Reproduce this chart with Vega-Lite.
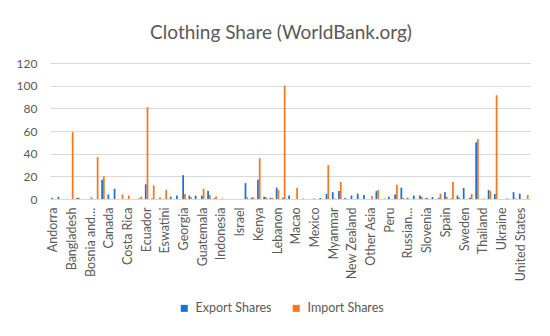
{
  "$schema": "https://vega.github.io/schema/vega-lite/v6.json",
  "autosize": {"type": "none"},
  "width": 480,
  "height": 136,
  "padding": {"left": 50, "top": 63, "right": 20, "bottom": 137},
  "background": "white",
  "title": {
    "text": "Clothing Share (WorldBank.org)",
    "font": "Lato",
    "fontSize": 19,
    "fontWeight": "normal",
    "color": "#595959",
    "anchor": "middle",
    "frame": "group",
    "dx": -9,
    "offset": 14
  },
  "config": {
    "view": {"stroke": null},
    "font": "Lato"
  },
  "data": {
    "values": [
      {"country": "Andorra", "type": "Export Shares", "value": 1}, {"country": "Andorra", "type": "Import Shares", "value": 0},
      {"country": "Argentina", "type": "Export Shares", "value": 2}, {"country": "Argentina", "type": "Import Shares", "value": 0},
      {"country": "Australia", "type": "Export Shares", "value": 0}, {"country": "Australia", "type": "Import Shares", "value": 0},
      {"country": "Bangladesh", "type": "Export Shares", "value": 0}, {"country": "Bangladesh", "type": "Import Shares", "value": 59},
      {"country": "Belarus", "type": "Export Shares", "value": 1}, {"country": "Belarus", "type": "Import Shares", "value": 1},
      {"country": "Belgium", "type": "Export Shares", "value": 0}, {"country": "Belgium", "type": "Import Shares", "value": 0},
      {"country": "Bosnia and Herzegovina", "type": "Export Shares", "value": 0}, {"country": "Bosnia and Herzegovina", "type": "Import Shares", "value": 1.5},
      {"country": "Botswana", "type": "Export Shares", "value": 0}, {"country": "Botswana", "type": "Import Shares", "value": 37},
      {"country": "Brazil", "type": "Export Shares", "value": 17}, {"country": "Brazil", "type": "Import Shares", "value": 20},
      {"country": "Canada", "type": "Export Shares", "value": 4}, {"country": "Canada", "type": "Import Shares", "value": 0},
      {"country": "Chile", "type": "Export Shares", "value": 9}, {"country": "Chile", "type": "Import Shares", "value": 0},
      {"country": "China", "type": "Export Shares", "value": 0}, {"country": "China", "type": "Import Shares", "value": 4},
      {"country": "Costa Rica", "type": "Export Shares", "value": 0}, {"country": "Costa Rica", "type": "Import Shares", "value": 3},
      {"country": "Croatia", "type": "Export Shares", "value": 0}, {"country": "Croatia", "type": "Import Shares", "value": 0},
      {"country": "Czech Republic", "type": "Export Shares", "value": 0.5}, {"country": "Czech Republic", "type": "Import Shares", "value": 2},
      {"country": "Ecuador", "type": "Export Shares", "value": 13}, {"country": "Ecuador", "type": "Import Shares", "value": 81},
      {"country": "Egypt", "type": "Export Shares", "value": 0.5}, {"country": "Egypt", "type": "Import Shares", "value": 12},
      {"country": "El Salvador", "type": "Export Shares", "value": 0}, {"country": "El Salvador", "type": "Import Shares", "value": 1.5},
      {"country": "Eswatini", "type": "Export Shares", "value": 0}, {"country": "Eswatini", "type": "Import Shares", "value": 8},
      {"country": "Fiji", "type": "Export Shares", "value": 2}, {"country": "Fiji", "type": "Import Shares", "value": 0},
      {"country": "France", "type": "Export Shares", "value": 3}, {"country": "France", "type": "Import Shares", "value": 0},
      {"country": "Georgia", "type": "Export Shares", "value": 21}, {"country": "Georgia", "type": "Import Shares", "value": 4.5},
      {"country": "Germany", "type": "Export Shares", "value": 3}, {"country": "Germany", "type": "Import Shares", "value": 1.5},
      {"country": "Greece", "type": "Export Shares", "value": 3}, {"country": "Greece", "type": "Import Shares", "value": 0},
      {"country": "Guatemala", "type": "Export Shares", "value": 3}, {"country": "Guatemala", "type": "Import Shares", "value": 9},
      {"country": "Honduras", "type": "Export Shares", "value": 7}, {"country": "Honduras", "type": "Import Shares", "value": 3.5},
      {"country": "India", "type": "Export Shares", "value": 0.5}, {"country": "India", "type": "Import Shares", "value": 2.5},
      {"country": "Indonesia", "type": "Export Shares", "value": 0}, {"country": "Indonesia", "type": "Import Shares", "value": 0.5},
      {"country": "Iran", "type": "Export Shares", "value": 0}, {"country": "Iran", "type": "Import Shares", "value": 0},
      {"country": "Ireland", "type": "Export Shares", "value": 0}, {"country": "Ireland", "type": "Import Shares", "value": 0},
      {"country": "Israel", "type": "Export Shares", "value": 0}, {"country": "Israel", "type": "Import Shares", "value": 0},
      {"country": "Italy", "type": "Export Shares", "value": 14}, {"country": "Italy", "type": "Import Shares", "value": 1.5},
      {"country": "Japan", "type": "Export Shares", "value": 1.3}, {"country": "Japan", "type": "Import Shares", "value": 1.3},
      {"country": "Kenya", "type": "Export Shares", "value": 17}, {"country": "Kenya", "type": "Import Shares", "value": 36},
      {"country": "Korea, Rep.", "type": "Export Shares", "value": 2}, {"country": "Korea, Rep.", "type": "Import Shares", "value": 1.5},
      {"country": "Kyrgyz Republic", "type": "Export Shares", "value": 1}, {"country": "Kyrgyz Republic", "type": "Import Shares", "value": 1},
      {"country": "Lebanon", "type": "Export Shares", "value": 10}, {"country": "Lebanon", "type": "Import Shares", "value": 8},
      {"country": "Lesotho", "type": "Export Shares", "value": 1}, {"country": "Lesotho", "type": "Import Shares", "value": 100},
      {"country": "Lithuania", "type": "Export Shares", "value": 3}, {"country": "Lithuania", "type": "Import Shares", "value": 0},
      {"country": "Macao", "type": "Export Shares", "value": 0}, {"country": "Macao", "type": "Import Shares", "value": 10},
      {"country": "Madagascar", "type": "Export Shares", "value": 0}, {"country": "Madagascar", "type": "Import Shares", "value": 0.5},
      {"country": "Malaysia", "type": "Export Shares", "value": 0}, {"country": "Malaysia", "type": "Import Shares", "value": 0},
      {"country": "Mexico", "type": "Export Shares", "value": 0.5}, {"country": "Mexico", "type": "Import Shares", "value": 0},
      {"country": "Moldova", "type": "Export Shares", "value": 1}, {"country": "Moldova", "type": "Import Shares", "value": 0},
      {"country": "Morocco", "type": "Export Shares", "value": 4.4}, {"country": "Morocco", "type": "Import Shares", "value": 30},
      {"country": "Myanmar", "type": "Export Shares", "value": 6}, {"country": "Myanmar", "type": "Import Shares", "value": 0.5},
      {"country": "Namibia", "type": "Export Shares", "value": 7}, {"country": "Namibia", "type": "Import Shares", "value": 15},
      {"country": "Netherlands", "type": "Export Shares", "value": 1}, {"country": "Netherlands", "type": "Import Shares", "value": 0},
      {"country": "New Zealand", "type": "Export Shares", "value": 3}, {"country": "New Zealand", "type": "Import Shares", "value": 0},
      {"country": "Nicaragua", "type": "Export Shares", "value": 4.7}, {"country": "Nicaragua", "type": "Import Shares", "value": 0},
      {"country": "Norway", "type": "Export Shares", "value": 3.5}, {"country": "Norway", "type": "Import Shares", "value": 0},
      {"country": "Other Asia", "type": "Export Shares", "value": 0}, {"country": "Other Asia", "type": "Import Shares", "value": 2.6},
      {"country": "Pakistan", "type": "Export Shares", "value": 7}, {"country": "Pakistan", "type": "Import Shares", "value": 8},
      {"country": "Paraguay", "type": "Export Shares", "value": 0}, {"country": "Paraguay", "type": "Import Shares", "value": 0.5},
      {"country": "Peru", "type": "Export Shares", "value": 2}, {"country": "Peru", "type": "Import Shares", "value": 0},
      {"country": "Philippines", "type": "Export Shares", "value": 4}, {"country": "Philippines", "type": "Import Shares", "value": 12.6},
      {"country": "Poland", "type": "Export Shares", "value": 10}, {"country": "Poland", "type": "Import Shares", "value": 1},
      {"country": "Russian Federation", "type": "Export Shares", "value": 1}, {"country": "Russian Federation", "type": "Import Shares", "value": 0},
      {"country": "Saudi Arabia", "type": "Export Shares", "value": 3}, {"country": "Saudi Arabia", "type": "Import Shares", "value": 0},
      {"country": "Singapore", "type": "Export Shares", "value": 3}, {"country": "Singapore", "type": "Import Shares", "value": 2},
      {"country": "Slovenia", "type": "Export Shares", "value": 1}, {"country": "Slovenia", "type": "Import Shares", "value": 0.5},
      {"country": "Solomon Islands", "type": "Export Shares", "value": 1.7}, {"country": "Solomon Islands", "type": "Import Shares", "value": 0},
      {"country": "South Africa", "type": "Export Shares", "value": 1}, {"country": "South Africa", "type": "Import Shares", "value": 4.7},
      {"country": "Spain", "type": "Export Shares", "value": 6}, {"country": "Spain", "type": "Import Shares", "value": 2},
      {"country": "Sri Lanka", "type": "Export Shares", "value": 0.5}, {"country": "Sri Lanka", "type": "Import Shares", "value": 15},
      {"country": "Suriname", "type": "Export Shares", "value": 3}, {"country": "Suriname", "type": "Import Shares", "value": 1.5},
      {"country": "Sweden", "type": "Export Shares", "value": 9.7}, {"country": "Sweden", "type": "Import Shares", "value": 0},
      {"country": "Switzerland", "type": "Export Shares", "value": 1}, {"country": "Switzerland", "type": "Import Shares", "value": 4.4},
      {"country": "Tanzania", "type": "Export Shares", "value": 50}, {"country": "Tanzania", "type": "Import Shares", "value": 53},
      {"country": "Thailand", "type": "Export Shares", "value": 0}, {"country": "Thailand", "type": "Import Shares", "value": 0.5},
      {"country": "Tunisia", "type": "Export Shares", "value": 8}, {"country": "Tunisia", "type": "Import Shares", "value": 7},
      {"country": "Turkey", "type": "Export Shares", "value": 4.4}, {"country": "Turkey", "type": "Import Shares", "value": 91.5},
      {"country": "Ukraine", "type": "Export Shares", "value": 0}, {"country": "Ukraine", "type": "Import Shares", "value": 0},
      {"country": "United Arab Emirates", "type": "Export Shares", "value": 0.5}, {"country": "United Arab Emirates", "type": "Import Shares", "value": 0},
      {"country": "United Kingdom", "type": "Export Shares", "value": 6}, {"country": "United Kingdom", "type": "Import Shares", "value": 0.5},
      {"country": "United States", "type": "Export Shares", "value": 4.7}, {"country": "United States", "type": "Import Shares", "value": 0},
      {"country": "Uruguay", "type": "Export Shares", "value": 0}, {"country": "Uruguay", "type": "Import Shares", "value": 3.5}
    ]
  },
  "mark": {"type": "bar"},
  "encoding": {
    "x": {
      "field": "country",
      "type": "nominal",
      "sort": null,
      "scale": {"paddingInner": 0.44, "paddingOuter": 0.22},
      "axis": {
        "title": null,
        "values": ["Andorra", "Bangladesh", "Bosnia and Herzegovina", "Canada", "Costa Rica", "Ecuador", "Eswatini", "Georgia", "Guatemala", "Indonesia", "Israel", "Kenya", "Lebanon", "Macao", "Mexico", "Myanmar", "New Zealand", "Other Asia", "Peru", "Russian Federation", "Slovenia", "Spain", "Sweden", "Thailand", "Ukraine", "United States"],
        "labelExpr": "datum.label == 'Bosnia and Herzegovina' ? 'Bosnia and…' : (datum.label == 'Russian Federation' ? 'Russian…' : datum.label)",
        "labelAngle": -90,
        "labelFont": "Lato",
        "labelFontSize": 12.5,
        "labelColor": "#595959",
        "labelPadding": 8,
        "ticks": false,
        "domainColor": "#d9d9d9",
        "grid": false
      }
    },
    "xOffset": {"field": "type", "type": "nominal", "sort": ["Export Shares", "Import Shares"]},
    "y": {
      "field": "value",
      "type": "quantitative",
      "scale": {"domain": [0, 120]},
      "axis": {
        "title": null,
        "values": [0, 20, 40, 60, 80, 100, 120],
        "domain": false,
        "ticks": false,
        "gridColor": "#d9d9d9",
        "labelFont": "Lato",
        "labelFontSize": 12,
        "labelColor": "#595959",
        "labelPadding": 13
      }
    },
    "color": {
      "field": "type",
      "type": "nominal",
      "scale": {"domain": ["Export Shares", "Import Shares"], "range": ["#1f6fd1", "#f7771f"]},
      "legend": {
        "title": null,
        "orient": "none",
        "direction": "horizontal",
        "legendX": 128,
        "legendY": 239,
        "symbolType": "square",
        "symbolSize": 49,
        "symbolStrokeWidth": 0,
        "labelFont": "Lato",
        "labelFontSize": 12.5,
        "labelColor": "#595959",
        "labelOffset": 5,
        "columnPadding": 18,
        "padding": 0
      }
    }
  }
}
